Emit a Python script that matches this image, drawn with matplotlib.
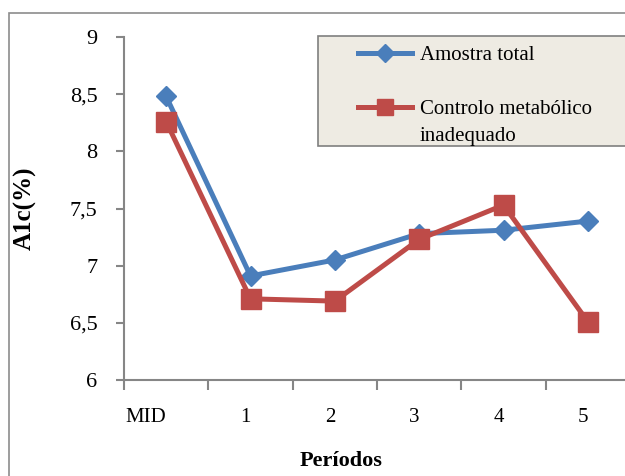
import matplotlib
matplotlib.use('Agg')
import matplotlib.pyplot as plt
from matplotlib.patches import Rectangle
from matplotlib.lines import Line2D
from matplotlib.transforms import ScaledTranslation

# data
periodos = ['MID', '1', '2', '3', '4', '5']
amostra_total = [8.48, 6.91, 7.05, 7.28, 7.31, 7.39]
controlo_inadequado = [8.26, 6.71, 6.69, 7.23, 7.53, 6.51]
y_ticks = [6, 6.5, 7, 7.5, 8, 8.5, 9]
y_ticklabels = ['6', '6,5', '7', '7,5', '8', '8,5', '9']

blue = '#4A7EBB'
red = '#BE4B48'
grey = '#868686'

plt.rcParams['font.family'] = ['Liberation Serif', 'DejaVu Serif']

fig = plt.figure(figsize=(6.25, 4.76), dpi=100)
ax = fig.add_axes([124/625, 96/476, 506/625, 343/476])

x = list(range(len(periodos)))
ax.plot(x, amostra_total, color=blue, lw=3.6, marker='D', ms=10,
        mfc=blue, mec=blue, solid_capstyle='butt', clip_on=False)
ax.plot(x, controlo_inadequado, color=red, lw=3.6, marker='s', ms=14,
        mfc=red, mec=red, solid_capstyle='butt', clip_on=False)

ax.set_xlim(-0.5, len(periodos) - 0.5)
ax.set_ylim(6, 9)
ax.set_yticks(y_ticks)
ax.set_yticklabels(y_ticklabels, fontsize=16)
ax.set_xticks(x)
ax.set_xticklabels(periodos, fontsize=15)
ax.set_xticks([i - 0.5 for i in range(len(periodos) + 1)], minor=True)
ax.tick_params(axis='x', which='major', length=0, pad=20)
ax.tick_params(axis='x', which='minor', length=7, width=1.5, color=grey, direction='out')
ax.tick_params(axis='y', length=6, width=1.5, color=grey, direction='out', pad=13)

# category labels sit a little left of the points, as in the original
for i, lbl in enumerate(ax.get_xticklabels()):
    dx = -20 if i == 0 else -5
    lbl.set_transform(lbl.get_transform() + ScaledTranslation(dx / 100, 0, fig.dpi_scale_trans))

for s in ['top', 'right']:
    ax.spines[s].set_visible(False)
for s in ['left', 'bottom']:
    ax.spines[s].set_color(grey)
    ax.spines[s].set_linewidth(1.5)

ax.set_ylabel('A1c(%)', fontsize=18, fontweight='bold')
ax.yaxis.set_label_coords(-0.172, 0.5)
fig.text(341/625, 1 - 461/476, 'Períodos', fontsize=16, fontweight='bold',
         ha='center', va='center')

# outer chart frame
fig.patches.append(Rectangle((9/625, -0.1), 1.2, 1.1 - 13/476, transform=fig.transFigure,
                             fill=False, ec='#8C8C8C', lw=1.2))

# legend box drawn by hand (handle aligned with first line of text)
fig.patches.append(Rectangle((318/625, 1 - 146/476), 0.5, 110/476, transform=fig.transFigure,
                             fc='#EEEBE3', ec='#7F7F7F', lw=1.2))
for yy, col, mk, ms, lab in [(53, blue, 'D', 9, 'Amostra total'),
                              (107, red, 's', 12, 'Controlo metabólico\ninadequado')]:
    fy = 1 - yy / 476
    fig.lines.append(Line2D([358/625, 412/625], [fy, fy], transform=fig.transFigure,
                            color=col, lw=3.6))
    fig.lines.append(Line2D([385/625], [fy], transform=fig.transFigure, color=col,
                            marker=mk, ms=ms, mfc=col, mec=col))
    fig.text(420/625, fy + 7/476, lab, fontsize=15, ha='left', va='top', linespacing=1.55)

fig.savefig('out.png', dpi=100)
